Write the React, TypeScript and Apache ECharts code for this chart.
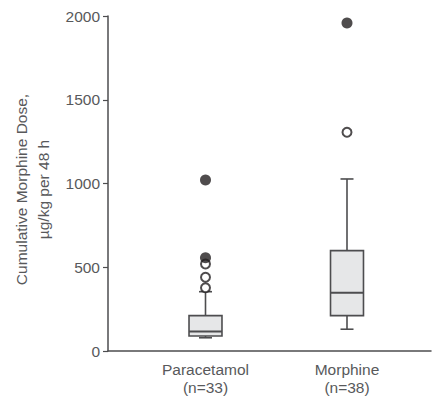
import React, { useEffect, useRef } from "react";
import * as echarts from "echarts";

const groups = ["Paracetamol", "Morphine"];
const groupN = [33, 38];
// [min whisker, Q1, median, Q3, max whisker]
const boxStats = [
  [79, 90, 116, 211, 354],
  [130, 211, 348, 599, 1027],
];
// outliers: [groupIndex, value]
const openOutliers = [
  [0, 378],
  [0, 440],
  [0, 519],
  [1, 1306],
];
const filledOutliers = [
  [0, 557],
  [0, 1021],
  [1, 1958],
];
const yTicks = [0, 500, 1000, 1500, 2000];

const TEXT = "#58595b";
const LINE = "#4d4d4f";
const FONT = "'Liberation Sans', Arial, sans-serif";

export default function App() {
  const ref = useRef<HTMLDivElement>(null);
  useEffect(() => {
    if (!ref.current) return;
    const chart = echarts.init(ref.current, undefined, { renderer: "svg" });
    const yMin = yTicks[0];
    const yMax = yTicks[yTicks.length - 1];
    const yInt = yTicks[1] - yTicks[0];
    const cats = groups.map((g, i) => `${g}\n(n=${groupN[i]})`);
    chart.setOption({
      animation: false,
      textStyle: { fontFamily: FONT },
      grid: [
        { left: 108, right: 5, top: 16, bottom: 45 },
        { left: 134.75, right: 18.25, top: 16, bottom: 45 },
      ],
      xAxis: [
        {
          gridIndex: 0,
          type: "value",
          min: 0,
          max: 1,
          axisLine: { show: true, onZero: false, lineStyle: { color: LINE, width: 1.5 } },
          axisTick: { show: false },
          axisLabel: { show: false },
          splitLine: { show: false },
        },
        {
          gridIndex: 1,
          type: "category",
          data: cats,
          axisLine: { show: false },
          axisTick: { show: false },
          axisLabel: {
            color: TEXT,
            fontSize: 15.5,
            lineHeight: 18,
            margin: 9,
            fontFamily: FONT,
          },
        },
      ],
      yAxis: [
        {
          gridIndex: 0,
          type: "value",
          min: yMin,
          max: yMax,
          interval: yInt,
          name: "Cumulative Morphine Dose,\nµg/kg per 48 h",
          nameLocation: "middle",
          nameGap: 52,
          nameTextStyle: {
            color: TEXT,
            fontSize: 15.5,
            lineHeight: 22,
            fontFamily: FONT,
            padding: [0, 12, 0, 0],
          },
          axisLine: { show: true, lineStyle: { color: LINE, width: 1.5 } },
          axisTick: { show: true, length: 5, lineStyle: { color: LINE, width: 1.2 } },
          axisLabel: {
            color: TEXT,
            fontSize: 15.5,
            margin: 8,
            fontFamily: FONT,
            formatter: (v: number) => String(v),
          },
          splitLine: { show: false },
        },
        {
          gridIndex: 1,
          type: "value",
          min: yMin,
          max: yMax,
          show: false,
          splitLine: { show: false },
        },
      ],
      series: [
        {
          type: "custom",
          xAxisIndex: 1,
          yAxisIndex: 1,
          data: boxStats.map((s, i) => [i, ...s]),
          encode: { x: 0, y: [1, 2, 3, 4, 5] },
          renderItem: (params: any, api: any) => {
            const idx = api.value(0);
            const vals = [1, 2, 3, 4, 5].map((d) => api.value(d));
            const band = api.size([1, 0])[0];
            const half = (band * 0.233) / 2;
            const capHalf = 6.5;
            const pts = vals.map((v) => api.coord([idx, v]));
            const cx = pts[0][0];
            const [pMin, pQ1, pMed, pQ3, pMax] = pts.map((p) => p[1]);
            const ls = { stroke: LINE, lineWidth: 1.6 };
            return {
              type: "group",
              children: [
                { type: "line", shape: { x1: cx, y1: pMax, x2: cx, y2: pQ3 }, style: ls },
                { type: "line", shape: { x1: cx, y1: pQ1, x2: cx, y2: pMin }, style: ls },
                { type: "line", shape: { x1: cx - capHalf, y1: pMax, x2: cx + capHalf, y2: pMax }, style: ls },
                { type: "line", shape: { x1: cx - capHalf, y1: pMin, x2: cx + capHalf, y2: pMin }, style: ls },
                {
                  type: "rect",
                  shape: { x: cx - half, y: pQ3, width: half * 2, height: pQ1 - pQ3 },
                  style: { fill: "#e6e7e8", stroke: LINE, lineWidth: 1.6 },
                },
                {
                  type: "line",
                  shape: { x1: cx - half, y1: pMed, x2: cx + half, y2: pMed },
                  style: { stroke: LINE, lineWidth: 2 },
                },
              ],
            };
          },
          z: 2,
        },
        {
          type: "scatter",
          xAxisIndex: 1,
          yAxisIndex: 1,
          data: openOutliers,
          symbol: "circle",
          symbolSize: 9,
          itemStyle: { color: "#ffffff", borderColor: "#231f20", borderWidth: 2 },
          z: 3,
        },
        {
          type: "scatter",
          xAxisIndex: 1,
          yAxisIndex: 1,
          data: filledOutliers,
          symbol: "circle",
          symbolSize: 11,
          itemStyle: { color: "#231f20" },
          z: 4,
        },
      ],
    });
    return () => chart.dispose();
  }, []);
  return <div ref={ref} style={{ width: 436, height: 396, position: "absolute", left: 0, top: 0 }} />;
}
